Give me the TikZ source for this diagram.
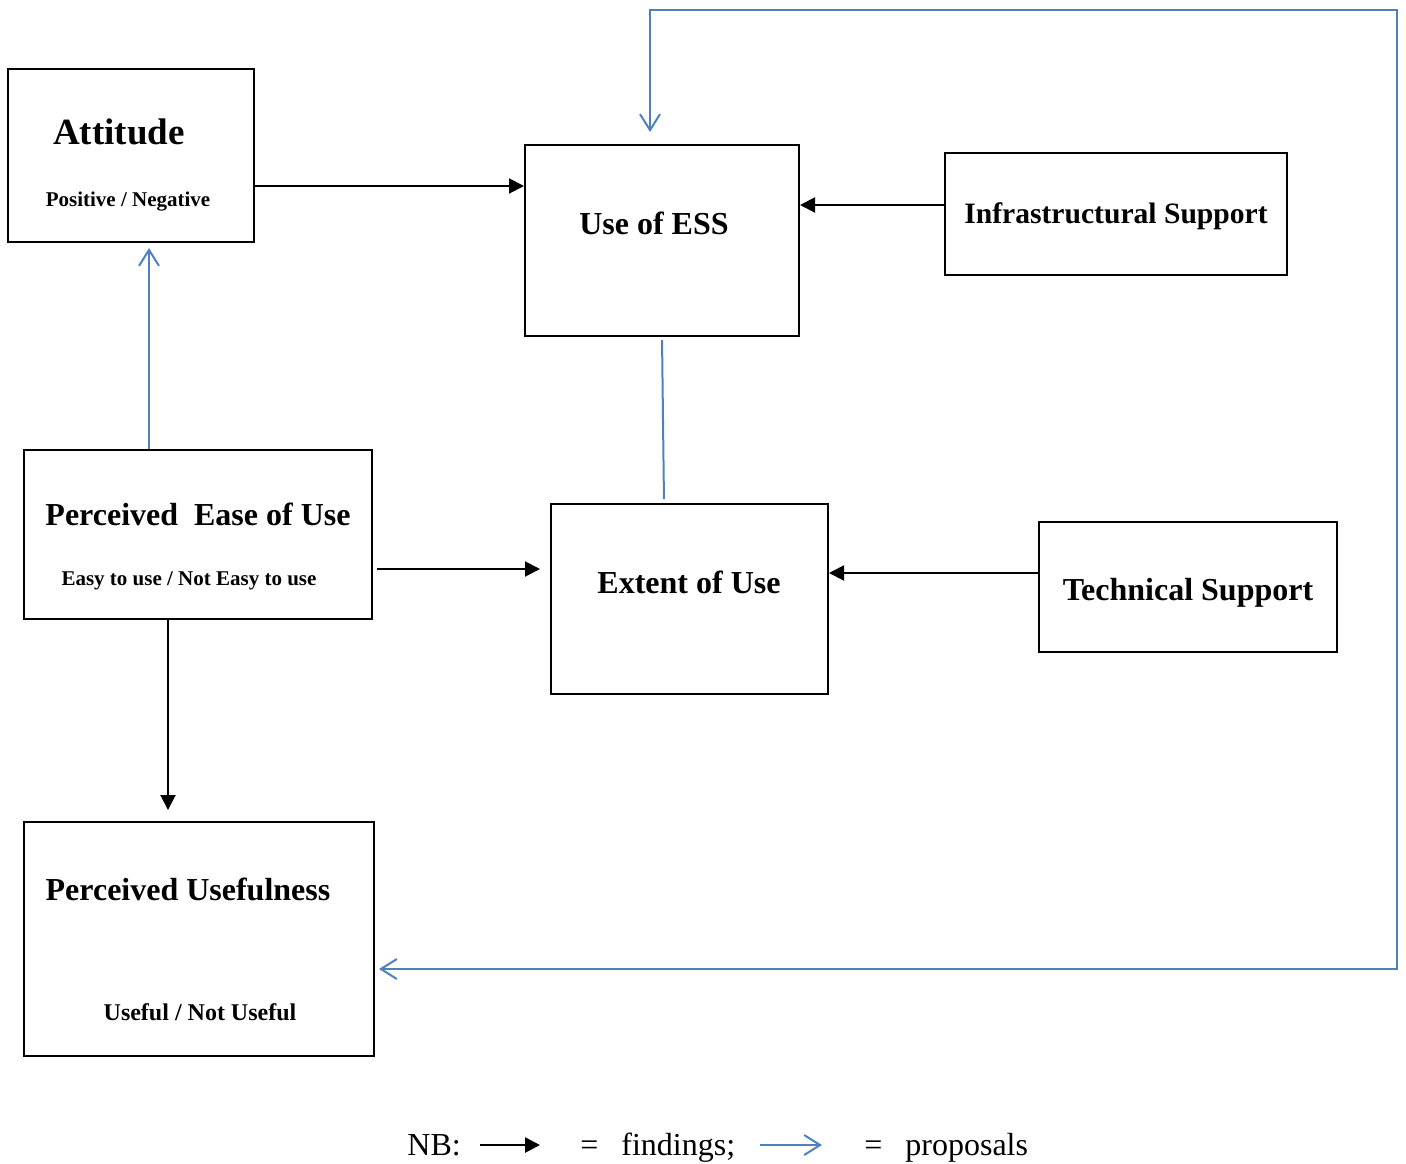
\documentclass[tikz,border=0pt]{standalone}
\usepackage{fontspec}
\setmainfont{Liberation Serif}
\usetikzlibrary{arrows.meta}
\definecolor{propblue}{RGB}{79,129,189}
\begin{document}
\begin{tikzpicture}[x=0.5pt,y=-0.5pt,
	box/.style={draw,line width=1pt,inner sep=0pt},
	head/.style={font=\bfseries\fontsize{16}{19}\selectfont},
	sub/.style={font=\bfseries\fontsize{10.5}{13}\selectfont},
	key/.style={anchor=base west,inner sep=0pt,font=\fontsize{16}{19}\selectfont},
	find/.style={line width=1pt,-{Triangle[length=7.5pt,width=7.5pt]}},
	prop/.style={propblue,line width=1pt,-{Straight Barb[length=8pt,width=10pt]}},
	propline/.style={propblue,line width=1pt}]
		\useasboundingbox(0,0)rectangle(1406,1163);
		% boxes
		\node[box,minimum width=123pt,minimum height=86.5pt](att)at(131,155.5){};
		\node[box,minimum width=137pt,minimum height=95.5pt](use)at(662,240.5){};
		\node[box,minimum width=171pt,minimum height=61pt](infra)at(1116,214){};
		\node[box,minimum width=174pt,minimum height=84.5pt](peou)at(198,534.5){};
		\node[box,minimum width=138.5pt,minimum height=95pt](ext)at(689.5,599){};
		\node[box,minimum width=149pt,minimum height=65pt](tech)at(1188,587){};
		\node[box,minimum width=175pt,minimum height=117pt](pu)at(199,939){};
		% texts
		\node[font=\bfseries\fontsize{18.5}{22}\selectfont](atttitle)at(119,132){Attitude};
		\node[sub](attsub)at(128,202){Positive / Negative};
		\node[head](usetitle)at(654,223){Use of ESS};
		\node[font=\bfseries\fontsize{14.8}{18}\selectfont](infratitle)at(1116,216){Infrastructural Support};
		\node[head](peoutitle)at(198,514){Perceived\ \ Ease of Use};
		\node[sub](peousub)at(189,581){Easy to use / Not Easy to use};
		\node[head](exttitle)at(689,582){Extent of Use};
		\node[head](techtitle)at(1188,593){Technical Support};
		\node[head](putitle)at(188,889){Perceived Usefulness};
		\node[font=\bfseries\fontsize{12}{14}\selectfont](pusub)at(200,1012){Useful / Not Useful};
		% findings
		\draw[find]([yshift=-15.25pt]att.east)--([yshift=-15.25pt]att.east-|use.west);
		\draw[find]([yshift=4.5pt]infra.west)--([yshift=4.5pt]infra.west-|use.east);
		\draw[find,shorten <=2pt,shorten >=5pt]([yshift=-17.25pt]peou.east)--([yshift=-17.25pt]peou.east-|ext.west);
		\draw[find]([yshift=7pt]tech.west)--([yshift=7pt]tech.west-|ext.east);
		\draw[find,shorten >=5.5pt]([xshift=-15pt]peou.south)--([xshift=-15pt]peou.south|-pu.north);
		% proposals
		\draw[prop,shorten >=2.5pt]([xshift=-24.5pt]peou.north)--([xshift=-24.5pt]peou.north|-att.south);
		\draw[propline,shorten <=1.5pt,shorten >=2pt](use.south)--([xshift=-12.75pt]ext.north);
		\coordinate(corner)at(1397,10);
		\draw[prop,{Straight Barb[length=8pt,width=10pt]}-{Straight Barb[length=8pt,width=10pt]},shorten <=2pt,shorten >=6pt]([yshift=-15pt]pu.east)-|(corner)-|([xshift=-6pt]use.north);
		% key
		\node[key](nb)at(407,1155){NB:};
		\coordinate(fa)at(480,1145);\coordinate(fb)at(540,1145);
		\draw[find,line width=1.3pt](fa)--(fb);
		\node[key](eqa)at(580,1155){=};
		\node[key](fnd)at(621,1155){findings;};
		\coordinate(pa)at(760,1145);\coordinate(pb)at(822,1145);
		\draw[prop](pa)--(pb);
		\node[key](eqb)at(864,1155){=};
		\node[key](prp)at(905,1155){proposals};
		\end{tikzpicture}
\end{document}
